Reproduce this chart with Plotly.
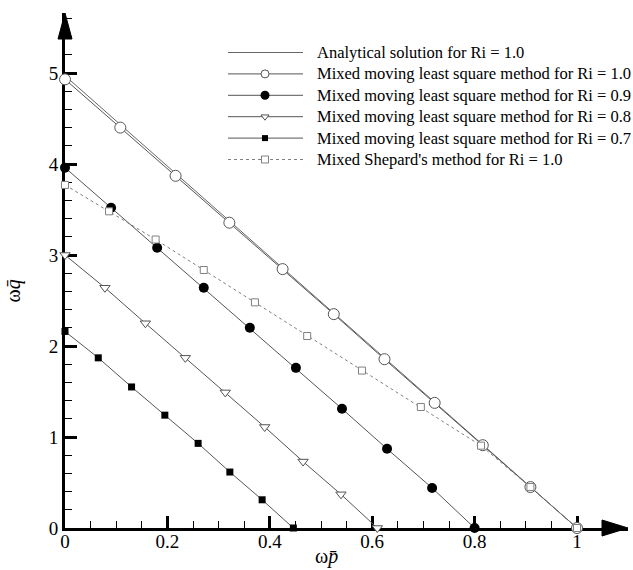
import plotly.graph_objects as go

# ---- data -------------------------------------------------------------
x_analytic = [0.0, 1.0]
y_analytic = [4.97, 0.0]

x_mmls_10 = [0.0, 0.108, 0.216, 0.321, 0.425, 0.525, 0.624, 0.722, 0.816, 0.909, 1.0]
y_mmls_10 = [4.93, 4.40, 3.87, 3.355, 2.845, 2.35, 1.855, 1.375, 0.91, 0.45, 0.0]

x_mmls_09 = [0.0, 0.090, 0.180, 0.271, 0.361, 0.451, 0.541, 0.629, 0.717, 0.80]
y_mmls_09 = [3.96, 3.52, 3.08, 2.64, 2.20, 1.76, 1.31, 0.87, 0.44, 0.0]

x_mmls_08 = [0.0, 0.078, 0.157, 0.235, 0.313, 0.390, 0.465, 0.539, 0.61]
y_mmls_08 = [3.0, 2.64, 2.25, 1.87, 1.49, 1.11, 0.73, 0.37, 0.0]

x_mmls_07 = [0.0, 0.065, 0.130, 0.195, 0.260, 0.322, 0.385, 0.446]
y_mmls_07 = [2.16, 1.87, 1.55, 1.24, 0.93, 0.615, 0.31, 0.0]

x_shepard = [0.0, 0.086, 0.177, 0.271, 0.371, 0.473, 0.58, 0.695, 0.8125, 0.909, 1.0]
y_shepard = [3.77, 3.48, 3.17, 2.835, 2.48, 2.11, 1.73, 1.33, 0.905, 0.45, 0.0]

x_ticks = [0, 0.2, 0.4, 0.6, 0.8, 1]
x_tick_text = ["0", "0.2", "0.4", "0.6", "0.8", "1"]
y_ticks = [0, 1, 2, 3, 4, 5]
y_tick_text = ["0", "1", "2", "3", "4", "5"]

legend_names = [
    "Analytical solution for Ri = 1.0",
    "Mixed moving least square method for Ri = 1.0",
    "Mixed moving least square method for Ri = 0.9",
    "Mixed moving least square method for Ri = 0.8",
    "Mixed moving least square method for Ri = 0.7",
    "Mixed Shepard's method for Ri = 1.0",
]

# ---- styles -----------------------------------------------------------
SERIF = "Liberation Serif, Times New Roman, serif"
LINE = "#555555"
DASH = "#808080"

styles = [
    dict(mode="lines", line=dict(color="#666666", width=1), marker=None, lmarker=None),
    dict(mode="lines+markers", line=dict(color=LINE, width=1),
         marker=dict(symbol="circle", size=11, color="white", line=dict(color=LINE, width=1)),
         lmarker=dict(symbol="circle", size=8, color="white", line=dict(color=LINE, width=1))),
    dict(mode="lines+markers", line=dict(color=LINE, width=1),
         marker=dict(symbol="circle", size=10, color="black", line=dict(color="black", width=0)),
         lmarker=dict(symbol="circle", size=9, color="black", line=dict(color="black", width=0))),
    dict(mode="lines+markers", line=dict(color=LINE, width=1),
         marker=dict(symbol="triangle-down", size=9, color="white", line=dict(color=LINE, width=1)),
         lmarker=dict(symbol="triangle-down", size=7, color="white", line=dict(color=LINE, width=1))),
    dict(mode="lines+markers", line=dict(color=LINE, width=1),
         marker=dict(symbol="square", size=7, color="black", line=dict(color="black", width=0)),
         lmarker=dict(symbol="square", size=6, color="black", line=dict(color="black", width=0))),
    dict(mode="lines+markers", line=dict(color=DASH, width=1, dash="3px,3px"),
         marker=dict(symbol="square", size=7, color="white", line=dict(color=DASH, width=1)),
         lmarker=dict(symbol="square", size=7, color="white", line=dict(color=DASH, width=1))),
]

series = [
    (x_analytic, y_analytic),
    (x_mmls_10, y_mmls_10),
    (x_mmls_09, y_mmls_09),
    (x_mmls_08, y_mmls_08),
    (x_mmls_07, y_mmls_07),
    (x_shepard, y_shepard),
]

# ---- geometry (pixels) ------------------------------------------------
W, H = 633, 570
ML, MR, MT, MB = 65, 5, 13, 42
PX_PER_X = 512.0          # pixels per unit on the x axis
PX_PER_Y = 91.0           # pixels per unit on the y axis
plot_w = W - ML - MR
plot_h = H - MT - MB
x_max = plot_w / PX_PER_X
y_max = plot_h / PX_PER_Y

fig = go.Figure()

for (xs, ys), name, st in zip(series, legend_names, styles):
    kw = dict(x=xs, y=ys, mode=st["mode"], line=st["line"], name=name,
              showlegend=False, cliponaxis=False, hoverinfo="skip")
    if st["marker"] is not None:
        kw["marker"] = st["marker"]
    fig.add_trace(go.Scatter(**kw))

# ---- hand-drawn legend on a pixel-space overlay axis ------------------
leg_x0, leg_x1, leg_mid, leg_text_x = 228, 303, 265, 315
leg_y0, leg_dy = 52.5, 21.4
for i, (name, st) in enumerate(zip(legend_names, styles)):
    yy = leg_y0 + i * leg_dy
    fig.add_trace(go.Scatter(x=[leg_x0, leg_x1], y=[yy, yy], mode="lines",
                             line=st["line"], xaxis="x2", yaxis="y2",
                             showlegend=False, hoverinfo="skip", cliponaxis=False))
    if st["lmarker"] is not None:
        fig.add_trace(go.Scatter(x=[leg_mid], y=[yy], mode="markers",
                                 marker=st["lmarker"], xaxis="x2", yaxis="y2",
                                 showlegend=False, hoverinfo="skip", cliponaxis=False))
    fig.add_annotation(x=leg_text_x, y=yy, xref="x2", yref="y2", text=name,
                       showarrow=False, xanchor="left", yanchor="middle",
                       font=dict(family=SERIF, size=16.5, color="black"))

# ---- axes --------------------------------------------------------------
axis_common = dict(
    showgrid=False, zeroline=False, showline=True, linecolor="black", linewidth=3,
    ticks="inside", ticklen=12, tickwidth=3, tickcolor="black",
    tickfont=dict(family=SERIF, size=19, color="black"),
    layer="below traces",
)
fig.update_layout(
    width=W, height=H,
    margin=dict(l=ML, r=MR, t=MT, b=MB, pad=0),
    paper_bgcolor="white", plot_bgcolor="white",
    xaxis=dict(range=[0, x_max], tickvals=x_ticks, ticktext=x_tick_text,
               ticklabelstandoff=-6,
               minor=dict(dtick=0.05, tick0=0, ticks="inside", ticklen=7,
                          tickwidth=1, tickcolor="black"),
               **axis_common),
    yaxis=dict(range=[0, y_max], tickvals=y_ticks, ticktext=y_tick_text,
               minor=dict(dtick=0.2, tick0=0, ticks="inside", ticklen=7,
                          tickwidth=1, tickcolor="black"),
               **axis_common),
    xaxis2=dict(overlaying="x", range=[ML, ML + plot_w], visible=False),
    yaxis2=dict(overlaying="y", range=[MT + plot_h, MT], visible=False),
    showlegend=False,
)

# arrow heads at the ends of both axes (paper refs so they are not clipped)
fig.add_shape(type="path", xref="paper", yref="paper", xsizemode="pixel", ysizemode="pixel",
              xanchor=1, yanchor=0, path="M-26,-8 L0,0 L-26,8 Z",
              fillcolor="black", line=dict(color="black", width=1))
fig.add_shape(type="path", xref="paper", yref="paper", xsizemode="pixel", ysizemode="pixel",
              xanchor=0, yanchor=1, path="M-7,-26 L0,0 L7,-26 Z",
              fillcolor="black", line=dict(color="black", width=1))

# axis titles
fig.add_annotation(x=(326 - ML) / plot_w, y=-(570 - MT - plot_h) / plot_h,
                   xref="paper", yref="paper", showarrow=False,
                   text="ω<i>p\u0304</i>", font=dict(family=SERIF, size=20, color="black"))
fig.add_annotation(x=-(ML + 1) / plot_w, y=1 - (291 - MT) / plot_h,
                   xref="paper", yref="paper", showarrow=False, textangle=-90,
                   text="ω<i>q\u0304</i>", font=dict(family=SERIF, size=20, color="black"))

fig.write_html("out.html")
